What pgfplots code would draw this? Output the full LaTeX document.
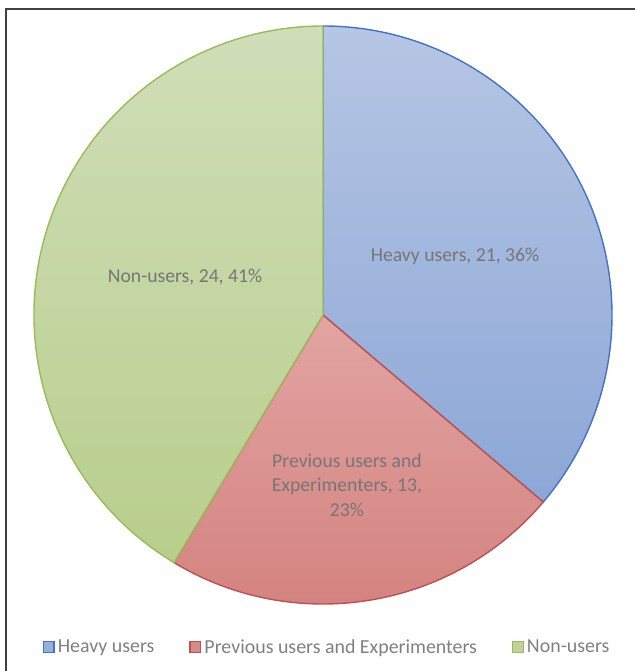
\documentclass[border=0pt]{standalone}
\usepackage{pgfplots}
\usepackage{pgfplotstable}
\pgfplotsset{compat=1.18}
\usepackage{fontspec}
\setmainfont{Carlito}

\definecolor{blueTop}{RGB}{182,198,228}
\definecolor{blueBot}{RGB}{140,167,214}
\definecolor{blueLine}{RGB}{68,114,196}
\definecolor{redTop}{RGB}{226,164,162}
\definecolor{redBot}{RGB}{210,128,124}
\definecolor{redLine}{RGB}{192,80,77}
\definecolor{greenTop}{RGB}{208,222,184}
\definecolor{greenBot}{RGB}{184,206,140}
\definecolor{greenLine}{RGB}{155,187,89}
\definecolor{labelGray}{RGB}{118,118,118}
\definecolor{legGray}{RGB}{128,128,128}
\definecolor{frameGray}{RGB}{64,64,64}

\pgfplotstableread{
label value
Heavy 21
Previous 13
Non 24
}\piedata

\pgfplotstablegetelem{0}{value}\of\piedata \let\va\pgfplotsretval
\pgfplotstablegetelem{1}{value}\of\piedata \let\vb\pgfplotsretval
\pgfplotstablegetelem{2}{value}\of\piedata \let\vc\pgfplotsretval
\pgfmathsetmacro{\tot}{\va+\vb+\vc}
\pgfmathsetmacro{\aA}{90}
\pgfmathsetmacro{\aB}{90-360*\va/\tot}
\pgfmathsetmacro{\aC}{\aB-360*\vb/\tot}
\pgfmathsetmacro{\aD}{\aC-360*\vc/\tot}

\begin{document}
\begin{tikzpicture}[x=1pt,y=1pt]
\useasboundingbox (0,0) rectangle (634,671);
\draw[line width=2pt, frameGray] (6,-5) -- (6,662) -- (640,662);
\begin{axis}[
  at={(323pt,356pt)}, anchor=center,
  scale only axis, width=578pt, height=578pt,
  xmin=-1, xmax=1, ymin=-1, ymax=1,
  hide axis, clip=false,
  legend columns=3,
  legend style={draw=none, fill=none, at={(0.508,-0.0744)}, anchor=center,
    font=\fontsize{19.9}{24}\selectfont\color{legGray},
    /tikz/every even column/.append style={column sep=32pt},
    inner sep=0pt, nodes={inner sep=3pt}},
  legend image code/.code={\draw[#1, line width=1.4pt] (0pt,-5.3pt) rectangle (10.6pt,5.3pt);},
]
\addlegendimage{draw=blueLine, fill=blueBot!70!blueTop}
\addlegendentry{Heavy users}
\addlegendimage{draw=redLine, fill=redBot!70!redTop}
\addlegendentry{Previous users and Experimenters}
\addlegendimage{draw=greenLine, fill=greenBot!70!greenTop}
\addlegendentry{Non-users}

\draw[line width=1.4pt, draw=blueLine, top color=blueTop, bottom color=blueBot]
  (axis cs:0,0) -- ({axis cs:{cos(\aA)},{sin(\aA)}}) arc[start angle=\aA, end angle=\aB, radius=289pt] -- cycle;
\draw[line width=1.4pt, draw=redLine, top color=redTop, bottom color=redBot]
  (axis cs:0,0) -- ({axis cs:{cos(\aB)},{sin(\aB)}}) arc[start angle=\aB, end angle=\aC, radius=289pt] -- cycle;
\draw[line width=1.4pt, draw=greenLine, top color=greenTop, bottom color=greenBot]
  (axis cs:0,0) -- ({axis cs:{cos(\aC)},{sin(\aC)}}) arc[start angle=\aC, end angle=\aD, radius=289pt] -- cycle;

\node[font=\fontsize{19.7}{24.5}\selectfont, text=labelGray] at (axis cs:0.4567,0.2042) {Heavy users, 21, 36\%};
\node[font=\fontsize{19.7}{24.5}\selectfont, text=labelGray] at (axis cs:-0.4775,0.1315) {Non-users, 24, 41\%};
\node[font=\fontsize{19.7}{24.5}\selectfont, text=labelGray, align=center] at (axis cs:0.0830,-0.5875) {Previous users and\\Experimenters, 13,\\23\%};
\end{axis}
\end{tikzpicture}
\end{document}
